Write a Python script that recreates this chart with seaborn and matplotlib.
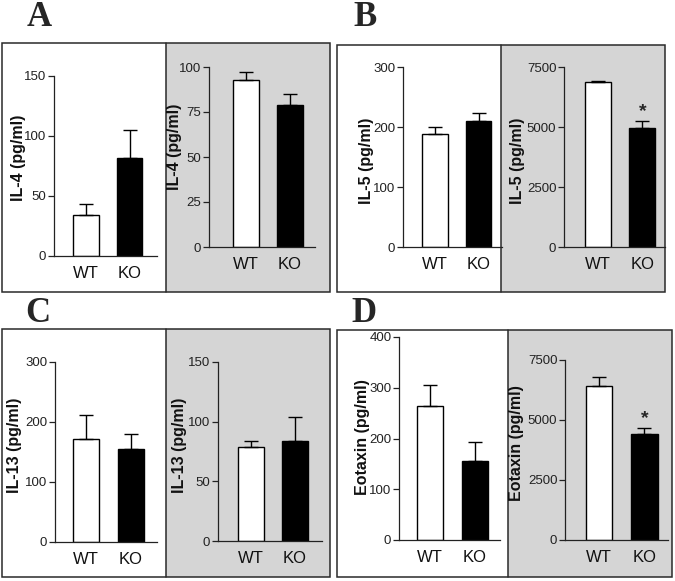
import matplotlib
matplotlib.use("Agg")
import matplotlib.pyplot as plt
from matplotlib.patches import Rectangle
import seaborn as sns
import pandas as pd

# data (mean and upper SEM, pg/ml)
groups = ["WT", "KO"]

il4_left_mean = [34, 81.5]
il4_left_sem = [9, 23.5]
il4_right_mean = [92.8, 78.7]
il4_right_sem = [4.2, 6.3]

il5_left_mean = [188, 210]
il5_left_sem = [11.5, 14]
il5_right_mean = [6862, 4958]
il5_right_sem = [40, 305]

il13_left_mean = [171.7, 155.5]
il13_left_sem = [39.3, 25]
il13_right_mean = [78.5, 84]
il13_right_sem = [5.1, 20]

eot_left_mean = [264.7, 155.7]
eot_left_sem = [40, 36.8]
eot_right_mean = [6417, 4417]
eot_right_sem = [361, 263]

il4_ticks_left = [0, 50, 100, 150]
il4_ticks_right = [0, 25, 50, 75, 100]
il5_ticks_left = [0, 100, 200, 300]
il5_ticks_right = [0, 2500, 5000, 7500]
il13_ticks_left = [0, 100, 200, 300]
il13_ticks_right = [0, 50, 100, 150]
eot_ticks_left = [0, 100, 200, 300, 400]
eot_ticks_right = [0, 2500, 5000, 7500]

sns.set_theme(style="ticks")
plt.rcParams["font.family"] = ["Liberation Sans", "DejaVu Sans"]

W, H = 675, 581
fig = plt.figure(figsize=(W / 100, H / 100), dpi=100)
fig.patch.set_facecolor("white")


def frac(x0, x1, y_top, y_bot):
    return [x0 / W, 1 - y_bot / H, (x1 - x0) / W, (y_bot - y_top) / H]


# outer boxes: (left, divider, right, top, bottom) in pixels
boxes = {
    "A": (2, 166, 330, 43, 292),
    "B": (337, 501, 665, 45, 292),
    "C": (2, 166, 330, 329, 577),
    "D": (337, 508, 672, 330, 577),
}
letters = {"A": (39, 18), "B": (365, 18), "C": (38, 313), "D": (364, 314)}

for key, (l, d, r, t, b) in boxes.items():
    fig.patches.append(Rectangle((d / W, 1 - b / H), (r - d) / W, (b - t) / H,
                                 transform=fig.transFigure, facecolor="#d5d5d5",
                                 edgecolor="none", zorder=-2))
    fig.patches.append(Rectangle((l / W, 1 - b / H), (r - l) / W, (b - t) / H,
                                 transform=fig.transFigure, facecolor="none",
                                 edgecolor="#2a2a2a", linewidth=1.1, zorder=-1))
    fig.lines.append(plt.Line2D([d / W, d / W], [1 - b / H, 1 - t / H],
                                transform=fig.transFigure, color="#2a2a2a",
                                linewidth=1.1, zorder=-1))
    lx, ly = letters[key]
    fig.text(lx / W, 1 - ly / H, key, ha="center", va="center",
             fontsize=25, fontweight="bold", family="Liberation Serif")

# each subplot: means, sems, ticks, label, axis rect (px), xlim, label centre (px), star
panels = [
    (il4_left_mean, il4_left_sem, il4_ticks_left, "IL-4 (pg/ml)", (54, 157, 76, 256), (-0.74, 1.63), (19, 158), False),
    (il4_right_mean, il4_right_sem, il4_ticks_right, "IL-4 (pg/ml)", (209, 315, 67, 247), (-0.85, 1.57), (175, 147), False),
    (il5_left_mean, il5_left_sem, il5_ticks_left, "IL-5 (pg/ml)", (403, 502, 67, 247), (-0.74, 1.54), (367, 161), False),
    (il5_right_mean, il5_right_sem, il5_ticks_right, "IL-5 (pg/ml)", (564, 665, 67, 247), (-0.76, 1.51), (518, 161), True),
    (il13_left_mean, il13_left_sem, il13_ticks_left, "IL-13 (pg/ml)", (55, 157, 362, 542), (-0.70, 1.59), (15, 445), False),
    (il13_right_mean, il13_right_sem, il13_ticks_right, "IL-13 (pg/ml)", (218, 322, 362, 541), (-0.75, 1.61), (180, 445), False),
    (eot_left_mean, eot_left_sem, eot_ticks_left, "Eotaxin (pg/ml)", (399, 500, 337, 540), (-0.69, 1.56), (363, 437), False),
    (eot_right_mean, eot_right_sem, eot_ticks_right, "Eotaxin (pg/ml)", (565, 668, 360, 540), (-0.75, 1.52), (517, 443), True),
]

for means, sems, ticks, label, (x0, x1, yt, yb), xlim, (lx, ly), star in panels:
    ax = fig.add_axes(frac(x0, x1, yt, yb))
    ax.set_facecolor("none")
    df = pd.DataFrame({"group": groups, "value": means})
    sns.barplot(data=df, x="group", y="value", hue="group", order=groups,
                palette={"WT": "white", "KO": "black"}, edgecolor="black",
                linewidth=1.0, width=0.59, errorbar=None, legend=False, ax=ax)
    ax.errorbar([0, 1], means, yerr=[[0, 0], sems], fmt="none", ecolor="black",
                elinewidth=1.0, capsize=5.2, capthick=1.0, zorder=3)
    if star:
        ax.annotate("*", xy=(1, means[1] + sems[1]), xytext=(0, 0.5),
                    textcoords="offset points", ha="center", va="bottom",
                    fontsize=14, fontweight="bold")
    ax.set_xlim(*xlim)
    ax.set_ylim(0, ticks[-1])
    ax.set_yticks(ticks)
    ax.set_yticklabels([str(v) for v in ticks], fontsize=9.5, color="#222222")
    ax.tick_params(axis="y", length=4, width=0.9, pad=1.5, color="#222222")
    ax.tick_params(axis="x", length=0, pad=7.0, labelsize=12, labelcolor="#111111")
    ax.set_xlabel("")
    ax.set_ylabel(label, fontsize=11.5, fontweight="bold", color="#111111")
    # label anchor is its right edge, so shift by half the text height
    ax.yaxis.set_label_coords((lx + 7 - x0) / (x1 - x0), (yb - ly) / (yb - yt))
    for s in ["top", "right"]:
        ax.spines[s].set_visible(False)
    for s in ["left", "bottom"]:
        ax.spines[s].set_linewidth(0.9)
        ax.spines[s].set_color("#222222")

fig.savefig("out.png", dpi=100)
